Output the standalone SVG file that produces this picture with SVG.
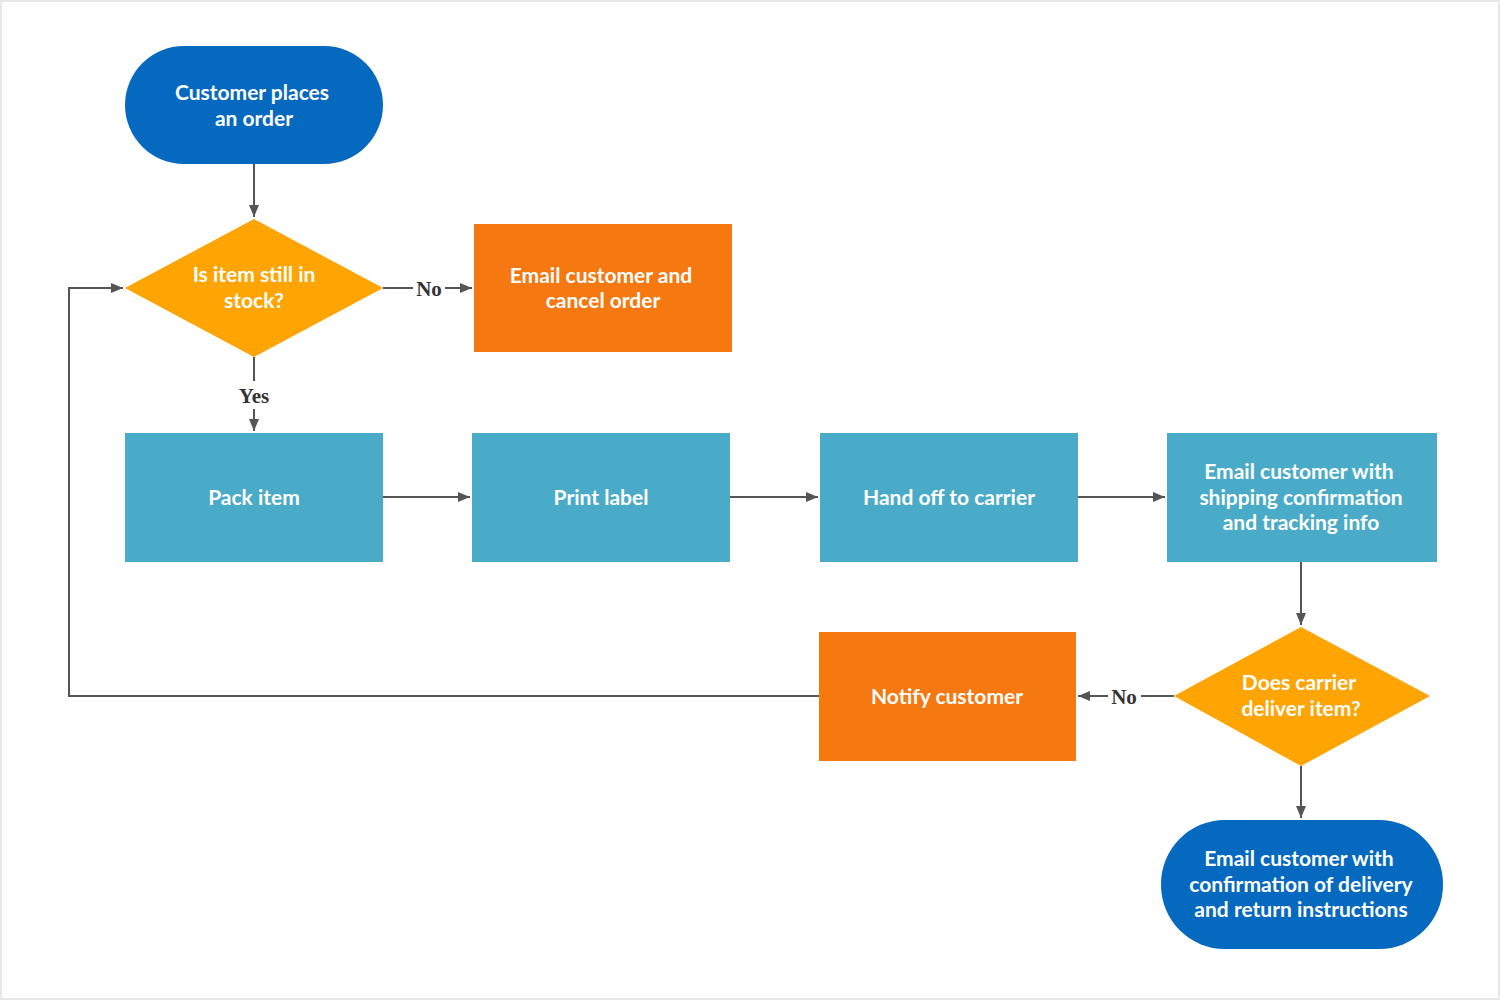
<svg xmlns="http://www.w3.org/2000/svg" width="1500" height="1000" viewBox="0 0 1500 1000">
<defs>
<marker id="arr" viewBox="0 0 12 10" refX="12" refY="5" markerWidth="12" markerHeight="10" markerUnits="userSpaceOnUse" orient="auto">
<path d="M0,0 L12,5 L0,10 z" fill="#555"/>
</marker>
<style>
.blue{fill:#0569c0}
.yel{fill:#fea503}
.org{fill:#f57811}
.teal{fill:#4aabc8}
.t{font-family:Lato,"Open Sans","Liberation Sans",sans-serif;font-weight:bold;font-size:21px;fill:#fff;text-anchor:middle}
.c{fill:none;stroke:#555;stroke-width:2}
.lbl{font-family:"Liberation Serif",serif;font-weight:bold;font-size:21px;fill:#333;text-anchor:middle}
</style>
</defs>
<rect x="0" y="0" width="1500" height="1000" fill="#e8e8e8"/>
<rect x="2" y="2" width="1496" height="996" fill="#fff"/>
<g id="connectors">
<path class="c" d="M254,164 V217" marker-end="url(#arr)"/>
<path class="c" d="M383,288 H413"/>
<path class="c" d="M445,288 H472" marker-end="url(#arr)"/>
<path class="c" d="M254,357 V381"/>
<path class="c" d="M254,409 V431" marker-end="url(#arr)"/>
<path class="c" d="M383,497 H470" marker-end="url(#arr)"/>
<path class="c" d="M730,497 H818" marker-end="url(#arr)"/>
<path class="c" d="M1078,497 H1165" marker-end="url(#arr)"/>
<path class="c" d="M1301,562 V625" marker-end="url(#arr)"/>
<path class="c" d="M1174,696 H1141"/>
<path class="c" d="M1108,696 H1078" marker-end="url(#arr)"/>
<path class="c" d="M1301,766 V818" marker-end="url(#arr)"/>
<path class="c" d="M819,696 H69 V288 H123" marker-end="url(#arr)"/>
<text class="lbl" x="429" y="296">No</text>
<text class="lbl" x="254" y="403">Yes</text>
<text class="lbl" x="1124" y="704">No</text>
</g>
<g id="start">
<rect class="blue" x="125" y="46" width="258" height="118" rx="59"/>
<text class="t" x="252" y="100">Customer places</text>
<text class="t" x="254" y="126">an order</text>
</g>
<g id="instock">
<polygon class="yel" points="254,219 383,288 254,357 125,288"/>
<text class="t" x="254" y="282">Is item still in</text>
<text class="t" x="254" y="308">stock?</text>
</g>
<g id="cancel">
<rect class="org" x="474" y="224" width="258" height="128"/>
<text class="t" x="601" y="283">Email customer and</text>
<text class="t" x="603" y="308">cancel order</text>
</g>
<g id="pack">
<rect class="teal" x="125" y="433" width="258" height="129"/>
<text class="t" x="254" y="505">Pack item</text>
</g>
<g id="print">
<rect class="teal" x="472" y="433" width="258" height="129"/>
<text class="t" x="601" y="505">Print label</text>
</g>
<g id="handoff">
<rect class="teal" x="820" y="433" width="258" height="129"/>
<text class="t" x="949" y="505">Hand off to carrier</text>
</g>
<g id="emailship">
<rect class="teal" x="1167" y="433" width="270" height="129"/>
<text class="t" x="1299" y="479">Email customer with</text>
<text class="t" x="1301" y="505">shipping confirmation</text>
<text class="t" x="1301" y="530">and tracking info</text>
</g>
<g id="delivered">
<polygon class="yel" points="1301,627 1430,696 1301,766 1174,696"/>
<text class="t" x="1299" y="690">Does carrier</text>
<text class="t" x="1301" y="716">deliver item?</text>
</g>
<g id="notify">
<rect class="org" x="819" y="632" width="257" height="129"/>
<text class="t" x="947" y="704">Notify customer</text>
</g>
<g id="end">
<rect class="blue" x="1161" y="820" width="282" height="129" rx="64"/>
<text class="t" x="1299" y="866">Email customer with</text>
<text class="t" x="1301" y="892">confirmation of delivery</text>
<text class="t" x="1301" y="917">and return instructions</text>
</g>
</svg>
